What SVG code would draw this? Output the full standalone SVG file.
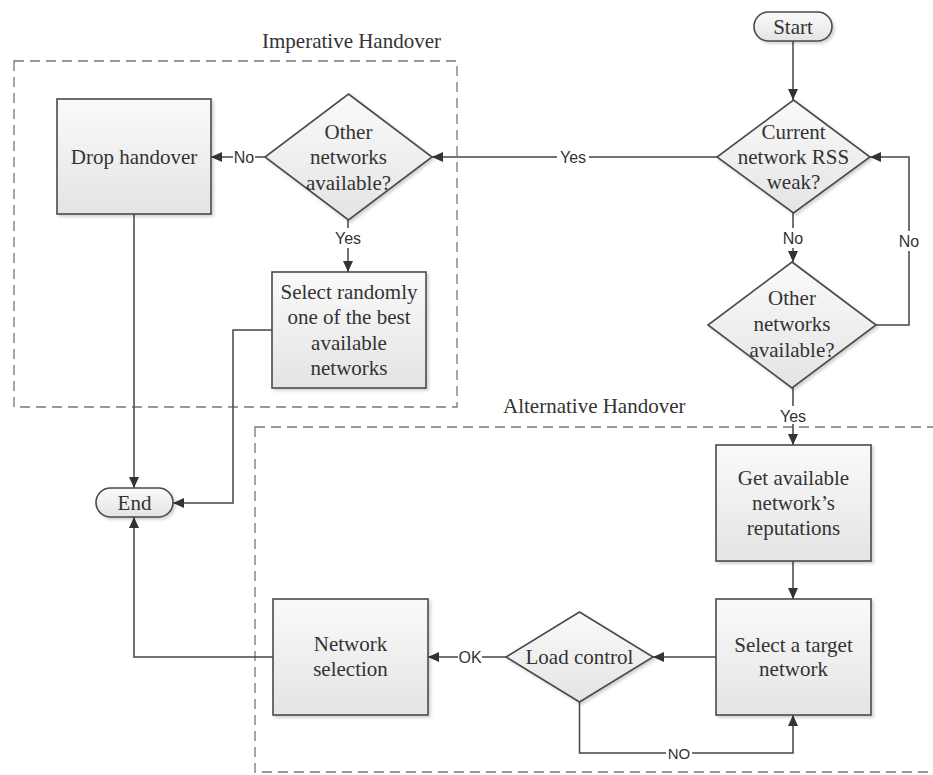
<svg xmlns="http://www.w3.org/2000/svg" width="933" height="775" viewBox="0 0 933 775">
<defs>
<linearGradient id="g" x1="0" y1="0" x2="0" y2="1">
<stop offset="0" stop-color="#fafafa"/>
<stop offset="1" stop-color="#e4e4e4"/>
</linearGradient>
<filter id="sh" x="-10%" y="-10%" width="130%" height="130%">
<feDropShadow dx="2" dy="2" stdDeviation="1.5" flood-color="#000" flood-opacity="0.18"/>
</filter>
<marker id="ah" markerUnits="userSpaceOnUse" markerWidth="12" markerHeight="12" refX="11" refY="6" orient="auto">
<path d="M0,1 L11,6 L0,11 z" fill="#333"/>
</marker>
</defs>
<style>
.n{fill:url(#g);stroke:#4a4a4a;stroke-width:1.6;filter:url(#sh)}
.t{font-family:"Liberation Serif","Times New Roman",serif;font-size:21px;fill:#333;text-anchor:middle}
.c{fill:none;stroke:#444;stroke-width:1.5}
.a{marker-end:url(#ah)}
.l{font-family:"Liberation Sans",Arial,sans-serif;font-size:16px;fill:#333;text-anchor:middle}
.b{fill:#fff}
.d{fill:none;stroke:#777;stroke-width:1.3;stroke-dasharray:10 6}
.g{font-family:"Liberation Serif","Times New Roman",serif;font-size:21px;fill:#333}
</style>
<rect width="933" height="775" fill="#fff"/>
<g id="imperative-group">
<rect class="d" x="14" y="61" width="443" height="346"/>
<text class="g" x="262" y="48">Imperative Handover</text>
</g>
<g id="alternative-group">
<rect class="d" x="255" y="427" width="700" height="345"/>
<text class="g" x="503" y="413">Alternative Handover</text>
</g>
<g id="connectors">
<path class="c a" d="M793,41 V100"/>
<path class="c a" d="M717,157 H432"/>
<path class="c a" d="M793,213 V262"/>
<path class="c a" d="M876,325 H909 V157 H870"/>
<path class="c a" d="M793,388 V445"/>
<path class="c a" d="M265,157 H211"/>
<path class="c a" d="M348,220 V272"/>
<path class="c a" d="M272,330 H233 V503 H173"/>
<path class="c a" d="M134,214 V488"/>
<path class="c a" d="M793,561 V599"/>
<path class="c a" d="M716,657 H653"/>
<path class="c a" d="M506,657 H428"/>
<path class="c a" d="M579.5,702 V753 H793 V715"/>
<path class="c a" d="M273,657 H134 V517"/>
<rect class="b" x="557" y="149" width="32" height="16"/>
<text class="l" x="573" y="163">Yes</text>
<rect class="b" x="781" y="228" width="24" height="20"/>
<text class="l" x="793" y="244">No</text>
<rect class="b" x="897" y="231" width="24" height="20"/>
<text class="l" x="909" y="247">No</text>
<rect class="b" x="777" y="406" width="32" height="18"/>
<text class="l" x="793" y="422">Yes</text>
<rect class="b" x="233" y="149" width="22" height="16"/>
<text class="l" x="244" y="163">No</text>
<rect class="b" x="332" y="228" width="32" height="20"/>
<text class="l" x="348" y="244">Yes</text>
<rect class="b" x="458" y="649" width="24" height="16"/>
<text class="l" x="470" y="663">OK</text>
<rect class="b" x="666" y="745" width="26" height="16"/>
<text class="l" x="679" y="759" style="font-size:15px">NO</text>
</g>
<g id="start">
<rect class="n" x="754" y="12" width="78" height="29" rx="14.5"/>
<text class="t" x="793" y="34">Start</text>
</g>
<g id="rss-weak">
<polygon class="n" points="793.5,100 870,157 793.5,213 717,157"/>
<text class="t" x="793.5" y="139">Current</text>
<text class="t" x="793.5" y="164">network RSS</text>
<text class="t" x="793.5" y="189">weak?</text>
</g>
<g id="other-networks-right">
<polygon class="n" points="792,262 876,325 792,388 708,325"/>
<text class="t" x="792" y="305">Other</text>
<text class="t" x="792" y="331">networks</text>
<text class="t" x="792" y="357">available?</text>
</g>
<g id="other-networks-left">
<polygon class="n" points="348.5,94 432,157 348.5,220 265,157"/>
<text class="t" x="348.5" y="139">Other</text>
<text class="t" x="348.5" y="164">networks</text>
<text class="t" x="348.5" y="190">available?</text>
</g>
<g id="drop-handover">
<rect class="n" x="57" y="99" width="154" height="115"/>
<text class="t" x="134" y="164">Drop handover</text>
</g>
<g id="select-randomly">
<rect class="n" x="272" y="272" width="154" height="116"/>
<text class="t" x="349" y="299">Select randomly</text>
<text class="t" x="349" y="324">one of the best</text>
<text class="t" x="349" y="350">available</text>
<text class="t" x="349" y="375">networks</text>
</g>
<g id="end">
<rect class="n" x="96" y="488" width="77" height="29" rx="14.5"/>
<text class="t" x="134.5" y="510">End</text>
</g>
<g id="get-reputations">
<rect class="n" x="716" y="445" width="155" height="116"/>
<text class="t" x="793.5" y="485">Get available</text>
<text class="t" x="793.5" y="510">network’s</text>
<text class="t" x="793.5" y="535">reputations</text>
</g>
<g id="select-target">
<rect class="n" x="716" y="599" width="155" height="116"/>
<text class="t" x="793.5" y="652">Select a target</text>
<text class="t" x="793.5" y="676">network</text>
</g>
<g id="load-control">
<polygon class="n" points="579.5,612 653,657 579.5,702 506,657"/>
<text class="t" x="579.5" y="664">Load control</text>
</g>
<g id="network-selection">
<rect class="n" x="273" y="599" width="155" height="116"/>
<text class="t" x="350.5" y="651">Network</text>
<text class="t" x="350.5" y="676">selection</text>
</g>
</svg>
